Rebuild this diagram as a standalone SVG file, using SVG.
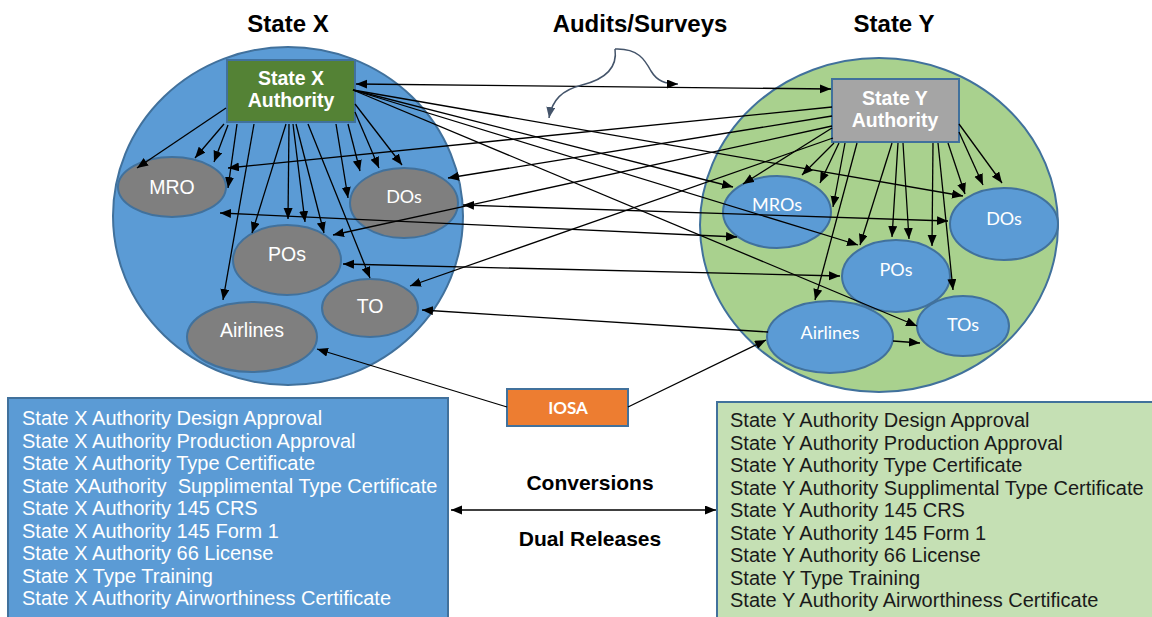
<svg xmlns="http://www.w3.org/2000/svg" width="1152" height="617" viewBox="0 0 1152 617">
  <style>
    .title { font-family: "Liberation Sans", Arial, sans-serif; font-weight: bold; font-size: 24px; fill: #000; text-anchor: middle; }
    .boxlbl { font-family: "Liberation Sans", Arial, sans-serif; font-weight: bold; font-size: 19.5px; fill: #fff; text-anchor: middle; }
    .ellA { font-family: "Liberation Sans", Arial, sans-serif; font-size: 19.5px; fill: #fff; text-anchor: middle; }
    .ellC { font-family: Lato, "Open Sans", sans-serif; font-size: 18px; fill: #fff; text-anchor: middle; }
    .list { font-family: "Liberation Sans", Arial, sans-serif; font-size: 20px; }
    .mid { font-family: "Liberation Sans", Arial, sans-serif; font-weight: bold; font-size: 21px; fill: #000; text-anchor: middle; }
    .edge { stroke: #41719C; stroke-width: 2; }
    .gray { fill: #7F7F7F; }
    .blue { fill: #5B9BD5; }
    .c { fill: none; stroke: #000; stroke-width: 1.3; marker-end: url(#ah); }
    .c2 { fill: none; stroke: #000; stroke-width: 1.3; marker-start: url(#ahs); marker-end: url(#ah); }
  </style>
  <defs>
    <marker id="ah" markerUnits="userSpaceOnUse" markerWidth="12" markerHeight="10" refX="11" refY="4.5" orient="auto">
      <path d="M0,0 L11,4.5 L0,9 z" fill="#000"/>
    </marker>
    <marker id="ahs" markerUnits="userSpaceOnUse" markerWidth="12" markerHeight="10" refX="11" refY="4.5" orient="auto-start-reverse">
      <path d="M0,0 L11,4.5 L0,9 z" fill="#000"/>
    </marker>
    <marker id="ahg" markerUnits="userSpaceOnUse" markerWidth="12" markerHeight="10" refX="11" refY="4.5" orient="auto">
      <path d="M0,0 L11,4.5 L0,9 z" fill="#44546A"/>
    </marker>
  </defs>

  <rect width="1152" height="617" fill="#fff"/>

  <!-- titles -->
  <text class="title" x="288" y="32">State X</text>
  <text class="title" x="640" y="32">Audits/Surveys</text>
  <text class="title" x="894" y="32">State Y</text>

  <!-- state regions -->
  <g id="state-x">
    <ellipse class="edge" cx="288" cy="216" rx="175" ry="169" fill="#5B9BD5"/>
  </g>
  <g id="state-y">
    <ellipse class="edge" cx="879" cy="225" rx="179" ry="167" fill="#A9D18E"/>
  </g>

  <!-- State X organisations -->
  <g id="x-mro"><ellipse class="edge gray" cx="172" cy="187" rx="54" ry="30"/><text class="ellA" x="172" y="194">MRO</text></g>
  <g id="x-dos"><ellipse class="edge gray" cx="404" cy="203" rx="54" ry="35"/><text class="ellC" x="404" y="203" font-size="16.5">DOs</text></g>
  <g id="x-pos"><ellipse class="edge gray" cx="287" cy="260" rx="54" ry="35"/><text class="ellA" x="287" y="261">POs</text></g>
  <g id="x-to"><ellipse class="edge gray" cx="370" cy="308" rx="48" ry="29"/><text class="ellA" x="370" y="313">TO</text></g>
  <g id="x-airlines"><ellipse class="edge gray" cx="252" cy="337" rx="65" ry="35"/><text class="ellA" x="252" y="337">Airlines</text></g>

  <!-- State Y organisations -->
  <g id="y-mros"><ellipse class="edge blue" cx="777" cy="212" rx="54" ry="36"/><text class="ellC" x="777" y="211">MROs</text></g>
  <g id="y-dos"><ellipse class="edge blue" cx="1004" cy="224" rx="54" ry="36"/><text class="ellC" x="1004" y="225">DOs</text></g>
  <g id="y-pos"><ellipse class="edge blue" cx="896" cy="276" rx="54" ry="36"/><text class="ellC" x="896" y="276">POs</text></g>
  <g id="y-tos"><ellipse class="edge blue" cx="963" cy="326" rx="46" ry="30"/><text class="ellC" x="963" y="331">TOs</text></g>
  <g id="y-airlines"><ellipse class="edge blue" cx="830" cy="337" rx="63" ry="36"/><text class="ellC" x="830" y="339">Airlines</text></g>

  <!-- authorities -->
  <g id="x-authority">
    <rect class="edge" x="227" y="60" width="128" height="62" fill="#548235"/>
    <text class="boxlbl" x="291" y="85">State X</text>
    <text class="boxlbl" x="291" y="107">Authority</text>
  </g>
  <g id="y-authority">
    <rect class="edge" x="832" y="79" width="127" height="63" fill="#A5A5A5"/>
    <text class="boxlbl" x="895" y="105">State Y</text>
    <text class="boxlbl" x="895" y="127">Authority</text>
  </g>

  <!-- IOSA -->
  <g id="iosa">
    <rect class="edge" x="507" y="389" width="121" height="37" fill="#ED7D31"/>
    <text x="568" y="414" font-family="Lato, 'Open Sans', sans-serif" font-weight="bold" font-size="17" fill="#fff" text-anchor="middle">IOSA</text>
  </g>

  <!-- approval lists -->
  <g id="x-approvals">
    <rect class="edge" x="8" y="398" width="440" height="230" fill="#5B9BD5"/>
    <g class="list" fill="#fff">
      <text x="22" y="425">State X Authority Design Approval</text>
      <text x="22" y="447.5">State X Authority Production Approval</text>
      <text x="22" y="470">State X Authority Type Certificate</text>
      <text x="22" y="492.5" xml:space="preserve">State XAuthority  Supplimental Type Certificate</text>
      <text x="22" y="515">State X Authority 145 CRS</text>
      <text x="22" y="537.5">State X Authority 145 Form 1</text>
      <text x="22" y="560">State X Authority 66 License</text>
      <text x="22" y="582.5">State X Type Training</text>
      <text x="22" y="605">State X Authority Airworthiness Certificate</text>
    </g>
  </g>
  <g id="y-approvals">
    <rect class="edge" x="717" y="402" width="450" height="230" fill="#C5E0B4"/>
    <g class="list" fill="#1a1a1a">
      <text x="730" y="427">State Y Authority Design Approval</text>
      <text x="730" y="449.5">State Y Authority Production Approval</text>
      <text x="730" y="472">State Y Authority Type Certificate</text>
      <text x="730" y="494.5">State Y Authority Supplimental Type Certificate</text>
      <text x="730" y="517">State Y Authority 145 CRS</text>
      <text x="730" y="539.5">State Y Authority 145 Form 1</text>
      <text x="730" y="562">State Y Authority 66 License</text>
      <text x="730" y="584.5">State Y Type Training</text>
      <text x="730" y="607">State Y Authority Airworthiness Certificate</text>
    </g>
  </g>

  <text class="mid" x="590" y="490">Conversions</text>
  <text class="mid" x="590" y="546">Dual Releases</text>

  <!-- connectors -->
  <g id="connectors">
    <!-- State X Authority to its own organisations -->
    <path class="c" d="M226,108 L137,168"/>
    <path class="c" d="M224,124 L195,158"/>
    <path class="c" d="M228,125 L214,162"/>
    <path class="c" d="M237,124 L228,188"/>
    <path class="c" d="M254,124 L223,300"/>
    <path class="c" d="M286,124 L252,233"/>
    <path class="c" d="M289,124 L288,219"/>
    <path class="c" d="M293,124 L305,222"/>
    <path class="c" d="M296,124 L324,233"/>
    <path class="c" d="M308,124 L370,278"/>
    <path class="c" d="M336,124 L348,198"/>
    <path class="c" d="M348,124 L360,171"/>
    <path class="c" d="M355,112 L379,168"/>
    <path class="c" d="M355,104 L402,165"/>

    <!-- State Y Authority to its own organisations -->
    <path class="c" d="M832,128 L743,184"/>
    <path class="c" d="M834,143 L802,175"/>
    <path class="c" d="M839,143 L820,183"/>
    <path class="c" d="M845,143 L833,207"/>
    <path class="c" d="M857,143 L815,300"/>
    <path class="c" d="M892,143 L860,245"/>
    <path class="c" d="M898,143 L892,237"/>
    <path class="c" d="M903,143 L909,239"/>
    <path class="c" d="M933,143 L932,246"/>
    <path class="c" d="M938,143 L953,290"/>
    <path class="c" d="M948,143 L965,194"/>
    <path class="c" d="M959,132 L983,185"/>
    <path class="c" d="M959,124 L1002,183"/>

    <!-- authority to authority -->
    <path class="c2" d="M356,84 L831,89"/>

    <!-- State X Authority to State Y organisations -->
    <path class="c" d="M353,90 L963,196"/>
    <path class="c" d="M353,90 L733,187"/>
    <path class="c" d="M353,90 L858,245"/>
    <path class="c" d="M353,90 L917,326"/>

    <!-- State Y Authority to State X organisations -->
    <path class="c" d="M832,107 L228,168"/>
    <path class="c" d="M832,116 L448,178"/>
    <path class="c" d="M832,126 L333,235"/>
    <path class="c" d="M833,138 L410,286"/>

    <!-- organisation to organisation -->
    <path class="c2" d="M220,213 L737,237"/>
    <path class="c2" d="M463,205 L948,221"/>
    <path class="c2" d="M343,264 L840,276"/>
    <path class="c" d="M768,332 L422,310"/>
    <path class="c" d="M893,341 L920,343"/>

    <!-- IOSA -->
    <path class="c" d="M507,407 L317,349"/>
    <path class="c" d="M628,407 L766,340"/>

    <!-- conversions / dual releases -->
    <path class="c2" d="M451,510 L716,510" stroke="#333"/>

    <!-- audits / surveys -->
    <path d="M615,49 C638,48 645,60 651,71 C657,81 665,84 678,84" fill="none" stroke="#44546A" stroke-width="1.5" marker-end="url(#ah)"/>
    <path d="M615,49 C618,70 602,80 582,85 C562,90 552,100 549,118" fill="none" stroke="#44546A" stroke-width="1.5" marker-end="url(#ahg)"/>
  </g>
</svg>
